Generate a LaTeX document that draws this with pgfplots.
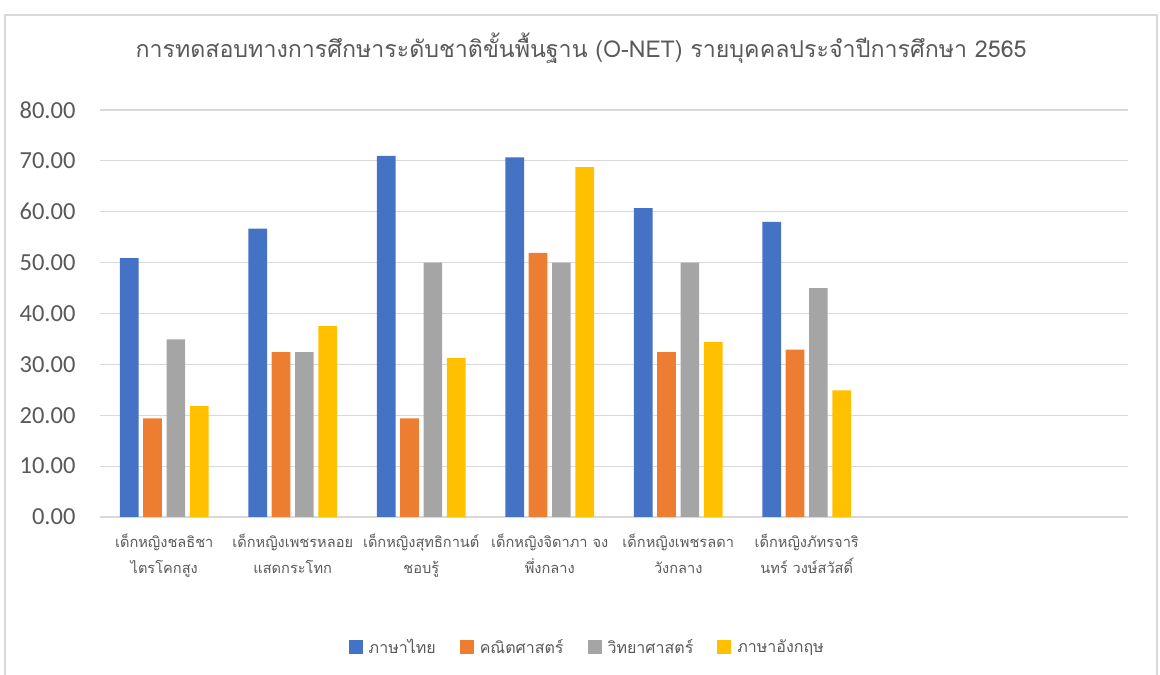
\documentclass[border=0pt]{standalone}
\usepackage{fontspec}
\setmainfont{Carlito}
\newfontfamily\thaifont[Script=Thai]{Loma}
\usepackage{pgfplots}
\pgfplotsset{compat=1.18}
\definecolor{cblue}{HTML}{4472C4}
\definecolor{corange}{HTML}{ED7D31}
\definecolor{cgray}{HTML}{A5A5A5}
\definecolor{cyellow}{HTML}{FFC000}
\definecolor{gridc}{HTML}{D9D9D9}
\definecolor{txt}{HTML}{595959}
\begin{document}
\begin{tikzpicture}
\path[use as bounding box] (0pt,0pt) rectangle (1160pt,675pt);
\draw[color=gridc, line width=1.5pt] (5pt,-20pt) rectangle (1157pt,660pt);
\node[font=\thaifont\fontsize{23.2}{26}\selectfont, text=txt] at (581pt,627pt) {การทดสอบทางการศึกษาระดับชาติขั้นพื้นฐาน (O-NET) รายบุคคลประจำปีการศึกษา 2565};
\begin{axis}[
  at={(100pt,158pt)}, anchor=south west,
  width=1028pt, height=407pt, scale only axis,
  xmin=-0.5, xmax=7.5, ymin=0, ymax=80,
  ytick={0,10,20,30,40,50,60,70,80},
  ymajorgrids, grid style={draw=gridc, line width=1.2pt},
  axis line style={draw=none},
  major tick length=0pt,
  ybar=4.6pt, bar width=18.7pt,
  xtick={0,1,2,3,4,5},
  xticklabels={{เด็กหญิงชลธิชา\\ไตรโคกสูง},{เด็กหญิงเพชรหลอย\\แสดกระโทก},{เด็กหญิงสุทธิกานต์\\ชอบรู้},{เด็กหญิงจิดาภา จง\\พึ่งกลาง},{เด็กหญิงเพชรลดา\\วังกลาง},{เด็กหญิงภัทรจาริ\\นทร์ วงษ์สวัสดิ์}},
  xticklabel style={font=\thaifont\fontsize{14.6}{26}\selectfont, text=txt, align=center, yshift=-13pt},
  yticklabel style={font=\fontsize{24.5}{28}\selectfont, text=txt, xshift=-21pt, /pgf/number format/.cd, fixed, fixed zerofill, precision=2, assume math mode=true},
  legend style={at={(0.474,-0.319)}, anchor=center, draw=none, font=\thaifont\fontsize{16}{20}\selectfont, text=txt, legend columns=4, /tikz/every even column/.append style={column sep=22pt}},
]
\addplot[fill=cblue, draw=none, legend image code/.code={\fill[cblue] (0pt,-7pt) rectangle (14pt,7pt);}] coordinates {(0,50.9) (1,56.7) (2,71.0) (3,70.7) (4,60.7) (5,58.0)};
\addplot[fill=corange, draw=none, legend image code/.code={\fill[corange] (0pt,-7pt) rectangle (14pt,7pt);}] coordinates {(0,19.4) (1,32.4) (2,19.4) (3,51.9) (4,32.4) (5,32.9)};
\addplot[fill=cgray, draw=none, legend image code/.code={\fill[cgray] (0pt,-7pt) rectangle (14pt,7pt);}] coordinates {(0,34.9) (1,32.4) (2,50.0) (3,50.0) (4,50.0) (5,45.0)};
\addplot[fill=cyellow, draw=none, legend image code/.code={\fill[cyellow] (0pt,-7pt) rectangle (14pt,7pt);}] coordinates {(0,21.8) (1,37.5) (2,31.25) (3,68.75) (4,34.4) (5,24.9)};
\legend{\hspace{4pt}ภาษาไทย,\hspace{4pt}คณิตศาสตร์,\hspace{4pt}วิทยาศาสตร์,\hspace{4pt}ภาษาอังกฤษ}
\end{axis}
\end{tikzpicture}
\end{document}
